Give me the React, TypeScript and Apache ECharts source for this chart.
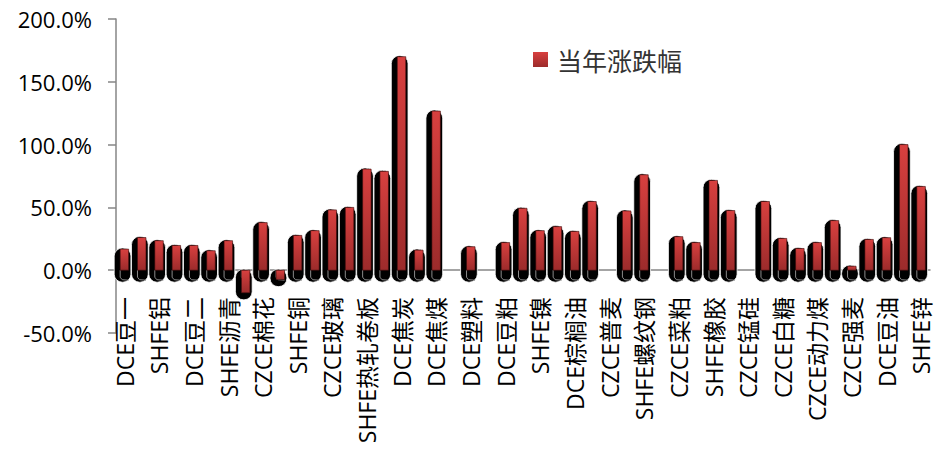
import React, { useEffect, useRef } from "react";
import * as echarts from "echarts";

const categories = [
  "DCE豆一", "SHFE黄金", "SHFE铝", "SHFE白银", "DCE豆二", "DCE玉米", "SHFE沥青", "DCE玉米淀粉",
  "CZCE棉花", "DCE鸡蛋", "SHFE铜", "CZCE甲醇", "CZCE玻璃", "DCE聚丙烯", "SHFE热轧卷板", "CZCE硅铁",
  "DCE焦炭", "SHFE燃油", "DCE焦煤", "SHFE线材", "DCE塑料", "DCE胶合板", "DCE豆粕", "DCE铁矿石",
  "SHFE镍", "SHFE铅", "DCE棕榈油", "CZCE PTA", "CZCE普麦", "SHFE锡", "SHFE螺纹钢", "CZCE早籼稻",
  "CZCE菜粕", "CZCE菜油", "SHFE橡胶", "DCE PVC", "CZCE锰硅", "DCE纤维板", "CZCE白糖", "CZCE棉纱",
  "CZCE动力煤", "CZCE菜籽", "CZCE强麦", "CZCE粳稻", "DCE豆油", "CZCE晚籼稻", "SHFE锌",
];

const changePct: (number | null)[] = [
  16.8, 26.0, 23.5, 19.7, 19.7, 15.5, 23.5, -18.0,
  37.9, -7.5, 27.7, 31.5, 48.0, 50.0, 80.5, 78.7,
  170.0, 16.0, 126.7, null, 18.7, null, 22.0, 49.3,
  31.5, 34.7, 30.9, 54.7, null, 47.2, 76.0, null,
  26.7, 22.0, 71.5, 47.5, null, 54.7, 25.3, 17.3,
  22.0, 39.5, 3.2, 24.5, 25.9, 100.0, 66.7,
];

const seriesName = "当年涨跌幅";
const yMin = -50;
const yMax = 200;
const yStep = 50;

const redGradient = () =>
  new echarts.graphic.LinearGradient(0, 0, 0, 1, [
    { offset: 0, color: "#d8403f" },
    { offset: 1, color: "#9c2b2b" },
  ]);

export default function App() {
  const ref = useRef<HTMLDivElement>(null);

  useEffect(() => {
    if (!ref.current) return;
    const chart = echarts.init(ref.current, undefined, { renderer: "svg" });
    const latin = "'Open Sans', 'Noto Sans CJK SC', sans-serif";

    const data = categories.map((c, i) => [i, changePct[i] == null ? "-" : changePct[i]]);

    chart.setOption({
      animation: false,
      backgroundColor: "#ffffff",
      grid: {
        left: 116,
        right: 14,
        top: 19,
        bottom: 124,
        containLabel: false,
        outerBoundsMode: "none",
      },
      legend: {
        left: 528,
        top: 42,
        itemWidth: 15,
        itemHeight: 15,
        data: [{ name: seriesName, icon: "rect", itemStyle: { color: redGradient() } }],
        textStyle: {
          fontSize: 25,
          color: "#333",
          fontFamily: "'Noto Sans CJK SC', sans-serif",
          padding: [0, 0, 0, 4],
        },
      },
      xAxis: {
        type: "category",
        data: categories,
        axisLine: { onZero: true, lineStyle: { color: "#868686", width: 1.5 } },
        axisTick: { show: false },
        axisLabel: {
          interval: 1,
          rotate: 90,
          margin: -36,
          fontSize: 23,
          color: "#000",
          fontFamily: latin,
        },
        splitLine: { show: false },
      },
      yAxis: {
        type: "value",
        min: yMin,
        max: yMax,
        interval: yStep,
        axisLine: { show: true, lineStyle: { color: "#868686", width: 1.5 } },
        axisTick: { show: true, length: 8, lineStyle: { color: "#868686", width: 1.5 } },
        axisLabel: {
          fontSize: 22,
          color: "#000",
          margin: 24,
          fontFamily: latin,
          formatter: (v: number) => v.toFixed(1) + "%",
        },
        splitLine: { show: false },
      },
      series: [
        {
          name: seriesName,
          type: "custom",
          itemStyle: { color: redGradient() },
          encode: { x: 0, y: 1 },
          data,
          renderItem: (params: any, api: any) => {
            const v = api.value(1);
            if (v == null || isNaN(v)) return null;
            const idx = api.value(0);
            const top = api.coord([idx, v]);
            const zero = api.coord([idx, 0]);
            const bw = api.size([1, 0])[0];
            const cx = top[0];
            const y1 = Math.min(top[1], zero[1]);
            const y2 = Math.max(top[1], zero[1]);
            const blackW = bw - 0.6;
            const bx = cx - bw / 2 - 1.8;
            const ext = v >= 0 ? 12 : 7;
            const redL = cx - 4.5;
            const redW = 8.5;
            return {
              type: "group",
              children: [
                {
                  type: "rect",
                  shape: { x: bx, y: y1 - 1, width: blackW, height: y2 - y1 + 1 + ext, r: 8 },
                  style: { fill: "#000", stroke: "#fff", lineWidth: 0.8 },
                },
                {
                  type: "polyline",
                  shape: {
                    points: [
                      [redL, zero[1]],
                      [redL, zero[1] + 7],
                      [redL + 2, zero[1] + 9.5],
                      [redL + redW, zero[1] + 10],
                    ],
                  },
                  style: { stroke: "#8a8a8a", lineWidth: 1, fill: null },
                },
                {
                  type: "rect",
                  shape: { x: redL, y: y1, width: redW, height: y2 - y1 },
                  style: { fill: redGradient(), stroke: "#3a0b0b", lineWidth: 0.6 },
                },
              ],
            };
          },
        },
      ],
    });

    return () => chart.dispose();
  }, []);

  return (
    <div
      ref={ref}
      style={{ position: "fixed", left: 0, top: 0, width: 944, height: 457, background: "#fff" }}
    />
  );
}
